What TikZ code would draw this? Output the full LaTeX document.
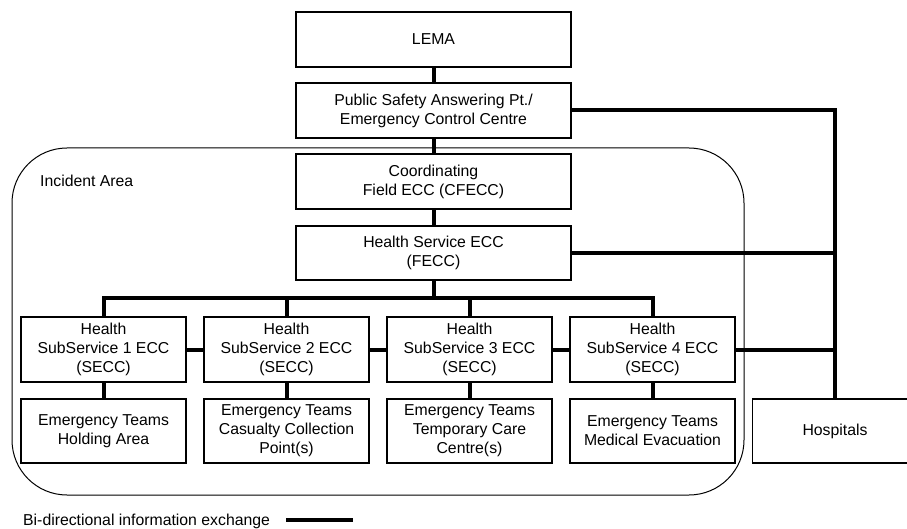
\documentclass[tikz,border=0pt]{standalone}
\usepackage{fontspec}
\setmainfont{Liberation Sans}
\begin{document}
\begin{tikzpicture}[x=1pt,y=-1pt,
  every node/.style={font=\fontsize{15.8}{19}\selectfont, inner sep=0pt},
  unit/.style={draw, line width=1.3pt, align=center, minimum width=275pt, minimum height=55pt},
  subunit/.style={draw, line width=1.3pt, align=center, minimum width=165pt, minimum height=65pt},
  team/.style={draw, line width=1.3pt, align=center, minimum width=165pt, minimum height=64pt},
  link/.style={line width=4pt},
  area/.style={draw, line width=1pt, rounded corners=55pt}]
\useasboundingbox (0,0) rectangle (907,529);

% incident area boundary
\draw[area] (12,148) rectangle (744,495);
\node[anchor=west] (arealabel) at (40,181) {Incident Area};

% control centre chain
\node[unit] (lema)  at (433.5,39.5)  {LEMA};
\node[unit] (psap)  at (433.5,110.5) {Public Safety Answering Pt./\\Emergency Control Centre};
\node[unit] (cfecc) at (433.5,181.5) {Coordinating\\Field ECC (CFECC)};
\node[unit, minimum height=54pt] (fecc) at (433.5,253) {Health Service ECC\\(FECC)};

% sub-service ECCs
\node[subunit] (s1) at (103.5,349.5) {Health\\SubService 1 ECC\\(SECC)};
\node[subunit] (s2) at (286.5,349.5) {Health\\SubService 2 ECC\\(SECC)};
\node[subunit] (s3) at (469.5,349.5) {Health\\SubService 3 ECC\\(SECC)};
\node[subunit] (s4) at (652.5,349.5) {Health\\SubService 4 ECC\\(SECC)};

% emergency teams
\node[team] (t1) at (103.5,431) {Emergency Teams\\Holding Area};
\node[team] (t2) at (286.5,431) {Emergency Teams\\Casualty Collection\\Point(s)};
\node[team] (t3) at (469.5,431) {Emergency Teams\\Temporary Care\\Centre(s)};
\node[team] (t4) at (652.5,431) {Emergency Teams\\Medical Evacuation};

\node[team] (hosp) at (835,431) {Hospitals};

% bus points
\coordinate (bus) at (433.5,298);
\coordinate (rail) at (835,110.5);

% vertical chain
\draw[link] (lema) -- (psap);
\draw[link] (psap) -- (cfecc);
\draw[link] (cfecc) -- (fecc);
\draw[link] (fecc) -- (bus);
\draw[link] (s1.north) |- (bus) -| (s4.north);
\draw[link] (s2.north) -- (s2.north |- bus);
\draw[link] (s3.north) -- (s3.north |- bus);
\foreach \i in {1,2,3,4} \draw[link] (s\i) -- (t\i);
\draw[link] (s1) -- (s2);
\draw[link] (s2) -- (s3);
\draw[link] (s3) -- (s4);

% links to hospitals
\draw[link] (psap.east) -- (rail) -- (hosp.north);
\draw[link] (fecc.east) -- (fecc.east -| rail);
\draw[link] (s4.east) -- (s4.east -| rail);

% legend
\node[anchor=west] (legend) at (23,521) {Bi-directional information exchange};
\coordinate (lg1) at (286,520);
\coordinate (lg2) at (353,520);
\draw[link] (lg1) -- (lg2);
\end{tikzpicture}
\end{document}
